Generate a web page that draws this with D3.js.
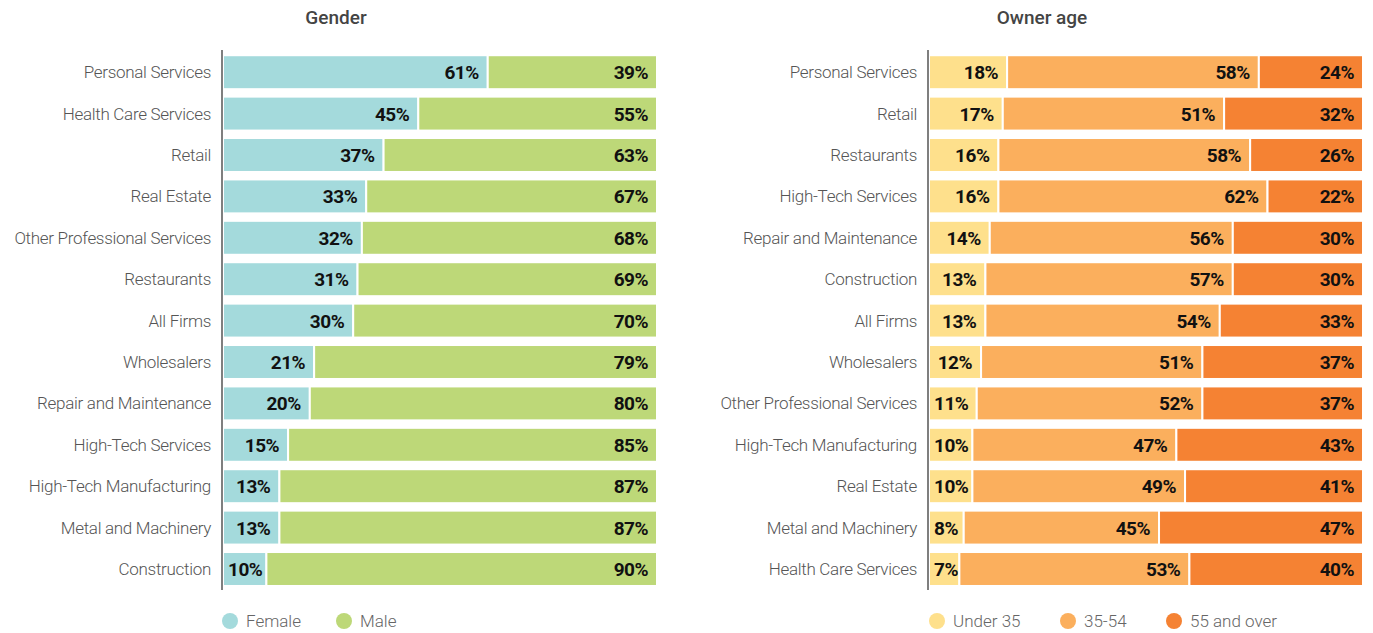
<!DOCTYPE html>
<html>
<head>
<meta charset="utf-8">
<script src="https://cdn.jsdelivr.net/npm/d3@7"></script>
<style>
  body { margin: 0; background: #fff; }
  svg text { font-family: "Roboto", "Liberation Sans", sans-serif; }
</style>
</head>
<body>
<div id="chart"></div>
<script>
// gender panel
const genderCategories = ["Personal Services", "Health Care Services", "Retail", "Real Estate",
  "Other Professional Services", "Restaurants", "All Firms", "Wholesalers", "Repair and Maintenance",
  "High-Tech Services", "High-Tech Manufacturing", "Metal and Machinery", "Construction"];
const genderKeys = ["Female", "Male"];
const female = [61, 45, 37, 33, 32, 31, 30, 21, 20, 15, 13, 13, 10];
const male = [39, 55, 63, 67, 68, 69, 70, 79, 80, 85, 87, 87, 90];

// owner age panel
const ageCategories = ["Personal Services", "Retail", "Restaurants", "High-Tech Services",
  "Repair and Maintenance", "Construction", "All Firms", "Wholesalers", "Other Professional Services",
  "High-Tech Manufacturing", "Real Estate", "Metal and Machinery", "Health Care Services"];
const ageKeys = ["Under 35", "35-54", "55 and over"];
const under35 = [18, 17, 16, 16, 14, 13, 13, 12, 11, 10, 10, 8, 7];
const age3554 = [58, 51, 58, 62, 56, 57, 54, 51, 52, 47, 49, 45, 53];
const over55 = [24, 32, 26, 22, 30, 30, 33, 37, 37, 43, 41, 47, 40];

const width = 1373;
const height = 633;

const svg = d3.select("#chart")
  .append("svg")
  .attr("width", width)
  .attr("height", height);

function drawPanel(title, categories, keys, seriesArrays, colors, axisX, legendX) {
  //turn the arrays into rows for d3.stack
  const rows = categories.map(function (c, i) {
    const row = { category: c };
    keys.forEach(function (k, j) { row[k] = seriesArrays[j][i]; });
    return row;
  });
  const stacked = d3.stack().keys(keys)(rows);

  const x = d3.scaleLinear().domain([0, 100]).range([axisX + 1, axisX + 435]);
  const y = d3.scaleBand()
    .domain(categories)
    .range([51.5, 589.7])
    .paddingInner(0.18)
    .paddingOuter(0.09);
  const color = d3.scaleOrdinal().domain(keys).range(colors);

  const g = svg.append("g");

  g.append("text")
    .attr("x", (x.range()[0] + x.range()[1]) / 2 - 104)
    .attr("y", 24)
    .attr("text-anchor", "middle")
    .style("font-size", "19px")
    .style("font-weight", "500")
    .attr("fill", "#444")
    .text(title);

  const layer = g.selectAll(".layer")
    .data(stacked)
    .enter()
    .append("g")
    .attr("fill", function (d) { return color(d.key); });

  layer.selectAll("rect")
    .data(function (d) { return d; })
    .enter()
    .append("rect")
    .attr("x", function (d) { return x(d[0]); })
    .attr("y", function (d) { return y(d.data.category); })
    .attr("width", function (d) { return x(d[1]) - x(d[0]); })
    .attr("height", y.bandwidth())
    .attr("stroke", "#fff")
    .attr("stroke-width", 2);

  //value labels, right aligned in each segment unless it is too narrow
  layer.selectAll("text")
    .data(function (d) { return d; })
    .enter()
    .append("text")
    .attr("y", function (d) { return y(d.data.category) + y.bandwidth() / 2 + 7; })
    .attr("fill", "#111")
    .style("font-size", "19px")
    .style("font-weight", "bold")
    .style("letter-spacing", "-0.5px")
    .text(function (d) { return (d[1] - d[0]) + "%"; })
    .each(function (d) {
      const w = this.getComputedTextLength();
      const segW = x(d[1]) - x(d[0]);
      if (segW < w + 15) {
        d3.select(this).attr("x", x(d[0]) + 5).attr("text-anchor", "start");
      } else {
        d3.select(this).attr("x", x(d[1]) - 9).attr("text-anchor", "end");
      }
    });

  //category labels
  g.selectAll(".cat")
    .data(categories)
    .enter()
    .append("text")
    .attr("x", axisX - 11)
    .attr("y", function (d) { return y(d) + y.bandwidth() / 2 + 6; })
    .attr("text-anchor", "end")
    .attr("fill", "#555")
    .style("font-size", "17px")
    .style("font-weight", "300")
    .style("letter-spacing", "-0.3px")
    .text(function (d) { return d; });

  g.append("line")
    .attr("x1", axisX).attr("x2", axisX)
    .attr("y1", 50).attr("y2", 590)
    .attr("stroke", "#555")
    .attr("stroke-width", 1.5);

  //legend
  keys.forEach(function (k, i) {
    g.append("circle")
      .attr("cx", legendX[i])
      .attr("cy", 621)
      .attr("r", 8)
      .attr("fill", color(k));
    g.append("text")
      .attr("x", legendX[i] + 16)
      .attr("y", 627)
      .attr("fill", "#666")
      .style("font-size", "17px")
      .style("font-weight", "300")
      .text(k);
  });
}

drawPanel("Gender", genderCategories, genderKeys, [female, male],
  ["#a4dadc", "#bdd878"], 222, [230, 344]);
drawPanel("Owner age", ageCategories, ageKeys, [under35, age3554, over55],
  ["#fee08c", "#fbaf5d", "#f58233"], 928, [937, 1068, 1174]);
</script>
</body>
</html>
